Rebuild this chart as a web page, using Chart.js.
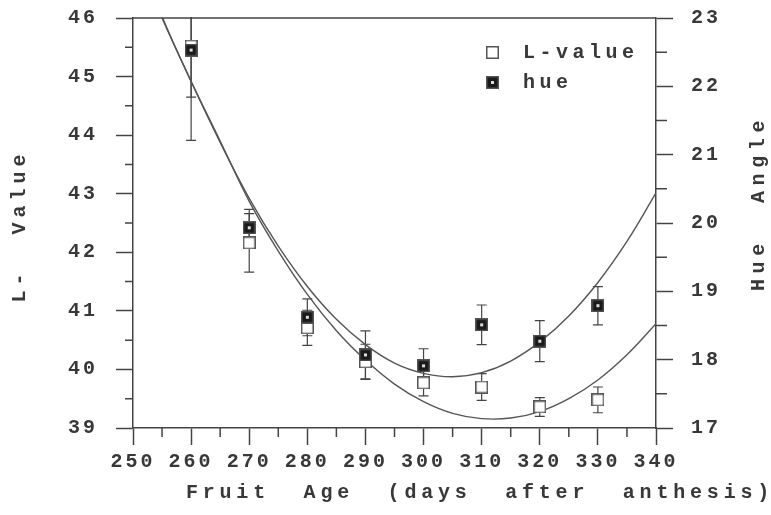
<!DOCTYPE html>
<html>
<head>
<meta charset="utf-8">
<script src="https://cdn.jsdelivr.net/npm/chart.js@4.4.0/dist/chart.umd.min.js"></script>
<style>
  html, body { margin: 0; padding: 0; background: #fff; }
</style>
</head>
<body>
<canvas id="chart" width="771" height="515"></canvas>
<script>
// measured means and standard errors
const days = [260, 270, 280, 290, 300, 310, 320, 330];
const lValue = [45.52, 42.16, 40.71, 40.13, 39.77, 39.70, 39.36, 39.48];
const lError = [0.87, 0.50, 0.30, 0.30, 0.22, 0.23, 0.16, 0.22];
const hue = [22.53, 19.93, 18.62, 18.07, 17.91, 18.51, 18.27, 18.79];
const hueError = [1.32, 0.27, 0.27, 0.35, 0.25, 0.29, 0.30, 0.28];

// fitted curves, read every 5 days
const fitDays = [250, 255, 260, 265, 270, 275, 280, 285, 290, 295, 300, 305, 310, 315, 320, 325, 330, 335, 340];
const lFit = [47.20, 46.00, 44.92, 43.90, 42.87, 42.02, 41.28, 40.66, 40.16, 39.75, 39.45, 39.25, 39.16, 39.17, 39.28, 39.50, 39.82, 40.25, 40.78];
const hueFit = [24.10, 23.02, 22.07, 21.18, 20.36, 19.66, 19.07, 18.59, 18.22, 17.95, 17.80, 17.75, 17.81, 17.98, 18.26, 18.64, 19.13, 19.73, 20.44];

// tick labels
const xTicks = [250, 260, 270, 280, 290, 300, 310, 320, 330, 340];
const lTicks = [39, 40, 41, 42, 43, 44, 45, 46];
const hueTicks = [17, 18, 19, 20, 21, 22, 23];

const INK = '#444';
const TEXT = '#383838';
const FONT = 'Liberation Mono';

function filledMarker() {
  const c = document.createElement('canvas');
  c.width = 13; c.height = 13;
  const g = c.getContext('2d');
  g.fillStyle = '#555';
  g.fillRect(0, 0, 13, 13);
  g.fillStyle = '#1a1a1a';
  g.fillRect(1.5, 1.5, 10, 10);
  g.fillStyle = '#ddd';
  g.fillRect(5, 5, 3, 3);
  return c;
}

function openMarker() {
  const c = document.createElement('canvas');
  c.width = 13; c.height = 13;
  const g = c.getContext('2d');
  g.fillStyle = '#fff';
  g.fillRect(0, 0, 13, 13);
  g.strokeStyle = '#555';
  g.lineWidth = 1.5;
  g.strokeRect(0.75, 0.75, 11.5, 11.5);
  return c;
}

const hueIcon = filledMarker();
const lIcon = openMarker();

function setTicks(list) {
  return scale => { scale.ticks = list.map(v => ({ value: v })); };
}

function fixSize(prop, size) {
  return scale => {
    scale[prop] = size;
    scale.paddingTop = 0; scale.paddingBottom = 0;
    scale.paddingLeft = 0; scale.paddingRight = 0;
  };
}

// error bars, minor ticks, frame top, titles and legend
const decorations = {
  id: 'decorations',
  beforeDraw(chart) {
    chart.ctx.letterSpacing = '3px';
  },
  beforeDatasetsDraw(chart) {
    const ctx = chart.ctx;
    const x = chart.scales.x;
    const area = chart.chartArea;
    ctx.save();
    ctx.beginPath();
    ctx.rect(area.left, area.top - 1, area.right - area.left, area.bottom - area.top + 1);
    ctx.clip();
    ctx.strokeStyle = INK;
    ctx.lineWidth = 1.2;
    const bars = [[lValue, lError, chart.scales.y], [hue, hueError, chart.scales.y1]];
    bars.forEach(([vals, errs, ys]) => {
      days.forEach((d, i) => {
        const px = x.getPixelForValue(d);
        const top = ys.getPixelForValue(vals[i] + errs[i]);
        const bot = ys.getPixelForValue(vals[i] - errs[i]);
        ctx.beginPath();
        ctx.moveTo(px, top); ctx.lineTo(px, bot);
        ctx.moveTo(px - 5, top); ctx.lineTo(px + 5, top);
        ctx.moveTo(px - 5, bot); ctx.lineTo(px + 5, bot);
        ctx.stroke();
      });
    });
    ctx.restore();
  },
  afterDraw(chart) {
    const ctx = chart.ctx;
    const { x, y, y1 } = chart.scales;
    const area = chart.chartArea;
    ctx.save();
    ctx.strokeStyle = INK;
    ctx.lineWidth = 1.5;
    ctx.beginPath();
    // top of the frame
    ctx.moveTo(area.left, area.top);
    ctx.lineTo(area.right, area.top);
    // minor ticks halfway between labelled ones
    for (let i = 0; i < xTicks.length - 1; i++) {
      const px = x.getPixelForValue((xTicks[i] + xTicks[i + 1]) / 2);
      ctx.moveTo(px, area.bottom); ctx.lineTo(px, area.bottom + 9);
    }
    for (let i = 0; i < lTicks.length - 1; i++) {
      const py = y.getPixelForValue((lTicks[i] + lTicks[i + 1]) / 2);
      ctx.moveTo(area.left, py); ctx.lineTo(area.left - 8, py);
    }
    for (let i = 0; i < hueTicks.length - 1; i++) {
      const py = y1.getPixelForValue((hueTicks[i] + hueTicks[i + 1]) / 2);
      ctx.moveTo(area.right, py); ctx.lineTo(area.right + 11, py);
    }
    ctx.stroke();

    ctx.fillStyle = TEXT;
    ctx.font = 'bold 20px "' + FONT + '"';
    ctx.textBaseline = 'middle';
    ctx.textAlign = 'center';
    ctx.letterSpacing = '4.8px';
    ctx.fillText('Fruit  Age  (days  after  anthesis)', area.left + 347, area.bottom + 65);

    ctx.letterSpacing = '5px';
    ctx.save();
    ctx.translate(area.left - 113, (area.top + area.bottom) / 2 + 3);
    ctx.rotate(-Math.PI / 2);
    ctx.fillText('L-  Value', 0, 0);
    ctx.restore();
    ctx.letterSpacing = '5.6px';
    ctx.save();
    ctx.translate(area.right + 103, (area.top + area.bottom) / 2 - 20);
    ctx.rotate(-Math.PI / 2);
    ctx.fillText('Hue  Angle', 0, 0);
    ctx.restore();

    // legend
    ctx.textAlign = 'left';
    ctx.letterSpacing = '4.5px';
    const items = [[chart.data.datasets[1], lIcon, area.top + 34], [chart.data.datasets[0], hueIcon, area.top + 64]];
    items.forEach(([ds, icon, py]) => {
      ctx.drawImage(icon, area.right - 170, py - 6);
      ctx.fillText(ds.label, area.right - 133, py + 1);
    });
    ctx.restore();
  }
};

const tickFont = { family: FONT, size: 20, weight: 'bold' };

new Chart(document.getElementById('chart'), {
  type: 'scatter',
  data: {
    datasets: [
      {
        label: 'hue',
        data: days.map((d, i) => ({ x: d, y: hue[i] })),
        yAxisID: 'y1',
        pointStyle: hueIcon,
        order: 0
      },
      {
        label: 'L-value',
        data: days.map((d, i) => ({ x: d, y: lValue[i] })),
        yAxisID: 'y',
        pointStyle: lIcon,
        order: 1
      },
      {
        label: 'L fit',
        type: 'line',
        data: fitDays.map((d, i) => ({ x: d, y: lFit[i] })),
        yAxisID: 'y',
        borderColor: '#555',
        borderWidth: 1.4,
        pointRadius: 0,
        tension: 0.4,
        order: 2
      },
      {
        label: 'hue fit',
        type: 'line',
        data: fitDays.map((d, i) => ({ x: d, y: hueFit[i] })),
        yAxisID: 'y1',
        borderColor: '#555',
        borderWidth: 1.4,
        pointRadius: 0,
        tension: 0.4,
        order: 2
      }
    ]
  },
  options: {
    responsive: false,
    animation: false,
    devicePixelRatio: 1,
    layout: { padding: { top: 18, left: 0, right: 0, bottom: 0 } },
    plugins: {
      legend: { display: false },
      tooltip: { enabled: false }
    },
    scales: {
      x: {
        type: 'linear',
        min: xTicks[0],
        max: xTicks[xTicks.length - 1],
        afterBuildTicks: setTicks(xTicks),
        afterFit: fixSize('height', 87),
        ticks: { font: tickFont, color: TEXT, padding: 5, maxRotation: 0 },
        grid: { drawOnChartArea: false, tickLength: 17, tickWidth: 1.5, tickColor: INK },
        border: { color: INK, width: 1.5 }
      },
      y: {
        position: 'left',
        min: lTicks[0],
        max: lTicks[lTicks.length - 1],
        afterBuildTicks: setTicks(lTicks),
        afterFit: fixSize('width', 133),
        ticks: { font: tickFont, color: TEXT, padding: 18 },
        grid: { drawOnChartArea: false, tickLength: 17, tickWidth: 1.5, tickColor: INK },
        border: { color: INK, width: 1.5 }
      },
      y1: {
        position: 'right',
        min: hueTicks[0],
        max: hueTicks[hueTicks.length - 1],
        afterBuildTicks: setTicks(hueTicks),
        afterFit: fixSize('width', 115),
        ticks: { font: tickFont, color: TEXT, padding: 18 },
        grid: { drawOnChartArea: false, tickLength: 17, tickWidth: 1.5, tickColor: INK },
        border: { color: INK, width: 1.5 }
      }
    }
  },
  plugins: [decorations]
});
</script>
</body>
</html>
